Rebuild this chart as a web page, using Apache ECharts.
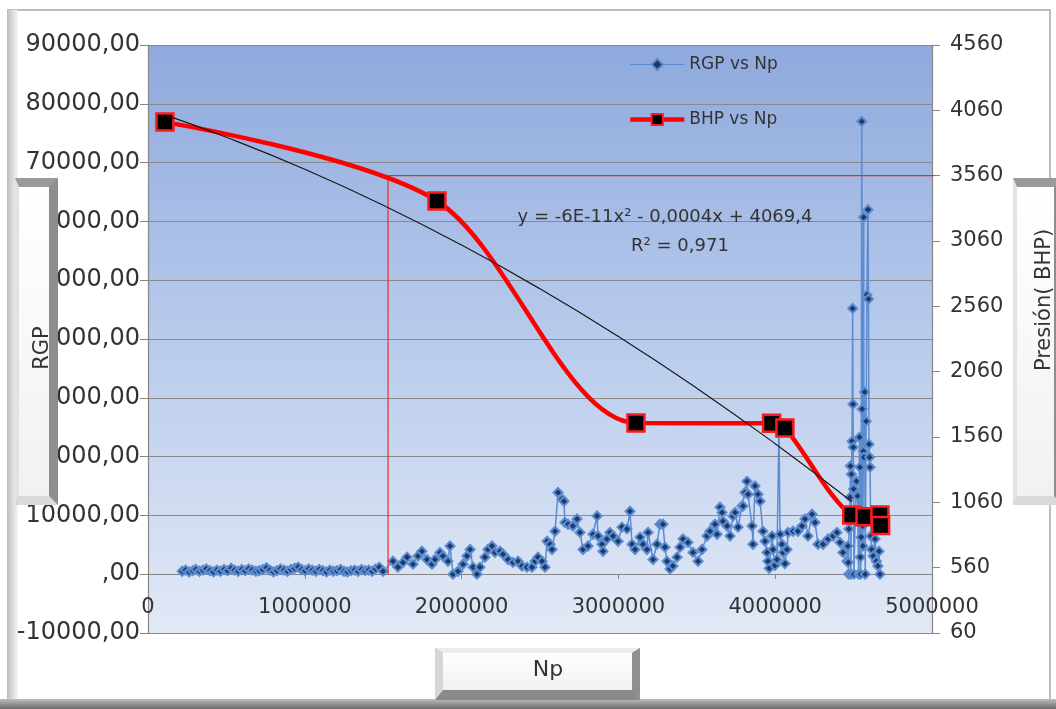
<!DOCTYPE html>
<html><head><meta charset="utf-8">
<script src="https://cdn.jsdelivr.net/npm/echarts@6/dist/echarts.min.js"></script>
<style>html,body{margin:0;padding:0;background:#fff}#c{width:1056px;height:709px}</style>
</head><body><div id="c"></div>
<script>
// ---- data (Np in thousands for RGP segments) ----
const npA = [218,240,262,285,305,328,350,372,395,418,440,462,485,508,530,552,575,598,620,642,665,688,710,732,755,778,800,822,845,868,890,912,935,958,980,1002,1025,1048,1070,1092,1115,1138,1160,1182,1205,1228,1250,1272,1295,1318,1340,1362,1385,1408,1430,1452,1475];
const rgpA = [500,700,400,600,800,500,700,900,600,400,700,500,800,600,1000,700,500,800,600,900,700,500,600,800,1100,700,400,600,900,700,500,800,1000,1200,800,600,900,700,500,800,600,400,700,500,600,800,500,400,600,700,500,800,600,700,500,900,1200];
const npB = [1499,1562,1594,1626,1652,1690,1722,1747,1779,1811,1830,1862,1881,1913,1926,1945,1977,2009,2034,2054,2073,2098,2117,2149,2168,2194,2213,2245,2264,2296,2328,2360,2385,2417,2449,2468,2487,2513,2532,2545,2564,2577,2596,2615,2640,2653,2659,2679,2710,2736,2755,2774,2806,2838,2864,2870,2895,2902,2927,2946,2966,2998,3023,3055,3074,3087,3106,3138,3157,3182,3189,3221,3246,3265,3284,3297,3310,3329,3348,3374,3393,3412];
const rgpB = [500,2200,1200,2000,2900,1700,3100,3900,2500,1700,2500,3700,3100,2200,4800,0,500,1700,3100,4200,1200,0,1200,2900,4200,4800,3700,3900,3400,2500,2000,2200,1400,1200,1200,2200,2900,2200,1200,5600,5100,4200,7300,13900,12800,12400,8800,8500,8200,9400,7100,4200,4800,6800,9900,6500,5100,3900,6000,7100,6500,5600,8000,7700,10700,5100,4200,6300,5100,4200,7100,2500,5100,8500,8500,4600,2200,900,1400,2900,4600,6000];
const npC = [3444,3476,3508,3533,3565,3584,3616,3629,3648,3661,3667,3693,3712,3731,3744,3763,3788,3795,3807,3820,3827,3852,3858,3871,3890,3903,3922,3935,3948,3954,3962,3980,3986,3998,4011,4024,4031,4043,4050,4062,4075,4082,4114,4145,4171,4190,4209,4235,4254,4273,4305,4337,4369,4394,4413,4432,4458];
const rgpC = [5400,3700,2200,4200,6500,7300,8500,6800,11400,10500,9000,8200,6500,9900,10500,8000,11600,11600,13900,15800,13600,8200,5100,15000,13600,12400,7300,5600,3700,2200,1000,6500,4200,1500,2500,24600,6800,5100,3700,1800,4200,7100,7300,7300,8200,9400,6500,10200,8800,5100,5100,6000,6500,7100,5400,3700,2200];
const npD = [4464,4466,4468,4470,4474,4478,4480,4483,4486,4490,4494,4496,4498,4500,4502,4510,4518,4525,4532,4538,4541,4543,4545,4548,4552,4555,4557,4559,4562,4564,4566,4570,4574,4580,4585,4592,4595,4598,4602,4605,4610,4615,4625,4637,4645,4655,4662,4668];
const rgpD = [4800,2000,0,7700,10700,13100,18400,0,17000,22600,45200,28900,21600,14500,0,9000,15800,13300,0,23300,18200,2900,0,6300,77000,28100,8200,4800,20900,60700,19900,31000,0,26000,47500,62000,46800,22100,19900,18200,6500,4200,3100,6000,2200,1400,3900,0];

const bhpNp  = [108000,1843000,3112000,3977000,4062000,4488000,4573000,4668000,4672000];
const bhpVal = [3970,3366,1667,1665,1629,963,950,963,882];

// polynomial trendline as drawn
const trendNp  = [108000,500000,1000000,1500000,2000000,2500000,3000000,3500000,4000000,4490000];
const trendVal = [4025,3854,3609,3334,3029,2694,2329,1934,1509,1064];

// red guide lines
const guideNp  = [1531000,1531000,5064000];
const guideVal = [504,3560,3560];

const seriesNames = ['RGP vs Np','BHP vs Np'];
const equationText = 'y = -6E-11x² - 0,0004x + 4069,4';
const r2Text = 'R² = 0,971';
const titleX = 'Np', titleY1 = 'RGP', titleY2 = 'Presión( BHP)';

// ---- build ----
const rgpData = [];
[[npA,rgpA],[npB,rgpB],[npC,rgpC],[npD,rgpD]].forEach(([n,v])=>n.forEach((x,i)=>rgpData.push([x*1000,v[i]])));
const bhpData = bhpNp.map((x,i)=>[x,bhpVal[i]]);
const trendData = trendNp.map((x,i)=>[x,trendVal[i]]);
const guideData = guideNp.map((x,i)=>[x,guideVal[i]]);

const FONT = '"DejaVu Sans", sans-serif';
const TXT = '#333333';

function bevelBox(x,y,w,h,l,t,r,b,cols){
  const Z = 100;
  return {type:'group', children:[
    {type:'rect', z:Z, shape:{x,y,width:w,height:h}, style:{fill:'#b0b0b0'}},
    {type:'polygon', z:Z+1, shape:{points:[[x,y],[x+w,y],[x+w-r,y+t],[x+l,y+t]]}, style:{fill:cols.top}},
    {type:'polygon', z:Z+1, shape:{points:[[x+w,y],[x+w,y+h],[x+w-r,y+h-b],[x+w-r,y+t]]}, style:{fill:cols.right}},
    {type:'polygon', z:Z+1, shape:{points:[[x,y+h],[x+w,y+h],[x+w-r,y+h-b],[x+l,y+h-b]]}, style:{fill:cols.bottom}},
    {type:'polygon', z:Z+1, shape:{points:[[x,y],[x+l,y+t],[x+l,y+h-b],[x,y+h]]}, style:{fill:cols.left}},
    {type:'rect', z:Z+2, shape:{x:x+l,y:y+t,width:w-l-r,height:h-t-b}, style:{fill:new echarts.graphic.LinearGradient(0,0,0,1,[{offset:0,color:'#ffffff'},{offset:1,color:'#f1f1f1'}])}}
  ]};
}
const vCols = {top:'#9a9a9a', right:'#8e8e8e', bottom:'#dadada', left:'#e2e2e2'};
const hCols = {top:'#ececec', right:'#8f8f8f', bottom:'#8a8a8a', left:'#d6d6d6'};

const chart = echarts.init(document.getElementById('c'));
chart.setOption({
  animation:false,
  backgroundColor:'#ffffff',
  grid:{left:148, right:124, top:45, bottom:76, show:true, borderWidth:0,
    backgroundColor:new echarts.graphic.LinearGradient(0,0,0,1,[{offset:0,color:'#8fa9dd'},{offset:0.5,color:'#b8cbec'},{offset:1,color:'#e2e9f6'}])},
  legend:{orient:'vertical', left:623, top:51, itemGap:38, itemWidth:54, itemHeight:14,
    data:[{name:seriesNames[0], lineStyle:{width:1.2}}, {name:seriesNames[1], lineStyle:{width:4.5}}],
    textStyle:{fontSize:17, color:TXT, fontFamily:FONT}},
  xAxis:{type:'value', min:0, max:5000000, interval:1000000, offset:-59,
    axisLine:{show:true, onZero:false, lineStyle:{color:'#868686', width:1.2}},
    axisTick:{show:true, length:5, lineStyle:{color:'#868686'}},
    axisLabel:{fontSize:21, color:TXT, fontFamily:FONT, margin:23, showMinLabel:true, showMaxLabel:true, hideOverlap:false, formatter:v=>String(v)},
    splitLine:{show:false}},
  yAxis:[
    {type:'value', min:-10000, max:90000, interval:10000, position:'left',
      axisLine:{show:true, lineStyle:{color:'#868686', width:1.2}},
      axisTick:{show:true, length:8, lineStyle:{color:'#868686'}},
      axisLabel:{fontSize:24, color:TXT, fontFamily:FONT, margin:8, formatter:v=> v===0 ? ',00' : String(v)+',00'},
      splitLine:{show:true, lineStyle:{color:'#8a8a8a', width:1.2}}},
    {type:'value', min:60, max:4560, interval:500, position:'right', alignTicks:false,
      axisLine:{show:true, lineStyle:{color:'#868686', width:1.2}},
      axisTick:{show:true, length:8, lineStyle:{color:'#868686'}},
      axisLabel:{fontSize:21, color:TXT, fontFamily:FONT, margin:18, formatter:v=>String(v)},
      splitLine:{show:false}}
  ],
  series:[
    {name:seriesNames[0], type:'line', yAxisIndex:0, data:rgpData, symbol:'diamond', symbolSize:9,
      lineStyle:{color:'#5b8bd0', width:1.5}, itemStyle:{color:'#1c3a68', borderColor:'#5b8bd0', borderWidth:2}, z:2},
    {name:'guide', type:'line', yAxisIndex:1, data:guideData, symbol:'none', clip:false, silent:true,
      lineStyle:{color:'#e03030', width:1.2}, z:3},
    {name:'trend', type:'line', yAxisIndex:1, data:trendData, symbol:'none', smooth:true, silent:true,
      lineStyle:{color:'#1a1a1a', width:1.2}, z:5},
    {name:seriesNames[1], type:'line', yAxisIndex:1, data:bhpData, symbol:'rect', symbolSize:17, smooth:0.3,
      lineStyle:{color:'#ff0000', width:4.5}, itemStyle:{color:'#000000', borderColor:'#ff1a1a', borderWidth:2.5}, z:4}
  ],
  graphic:[
    {type:'rect', z:90, shape:{x:8,y:10,width:1042,height:692}, style:{fill:'none', stroke:'#a8a8a8', lineWidth:1.5}},
    {type:'rect', z:90, shape:{x:8,y:10,width:10,height:690}, style:{fill:new echarts.graphic.LinearGradient(0,0,1,0,[{offset:0,color:'#c4c4c4'},{offset:1,color:'#f6f6f6'}])}},
    {type:'rect', z:90, shape:{x:0,y:699,width:1056,height:10}, style:{fill:new echarts.graphic.LinearGradient(0,0,0,1,[{offset:0,color:'#bdbdbd'},{offset:1,color:'#6a6a6a'}])}},
    bevelBox(15,178,43,327,4,9,9,9,vCols),
    bevelBox(1013,178,50,327,4,9,9,9,vCols),
    bevelBox(435,648,205,52,8,5,8,10,hCols),
    {type:'text', z:110, x:43, y:348, rotation:Math.PI/2, style:{text:titleY1, font:'21px '+FONT, fill:TXT, textAlign:'center', textVerticalAlign:'middle'}},
    {type:'text', z:110, x:1045, y:300, rotation:Math.PI/2, style:{text:titleY2, font:'21px '+FONT, fill:TXT, textAlign:'center', textVerticalAlign:'middle'}},
    {type:'text', z:110, x:548, y:670, style:{text:titleX, font:'22px '+FONT, fill:TXT, textAlign:'center', textVerticalAlign:'middle'}},
    {type:'text', z:110, x:665, y:217, style:{text:equationText, font:'18px '+FONT, fill:TXT, textAlign:'center', textVerticalAlign:'middle'}},
    {type:'text', z:110, x:680, y:246, style:{text:r2Text, font:'18px '+FONT, fill:TXT, textAlign:'center', textVerticalAlign:'middle'}}
  ]
});
</script></body></html>
